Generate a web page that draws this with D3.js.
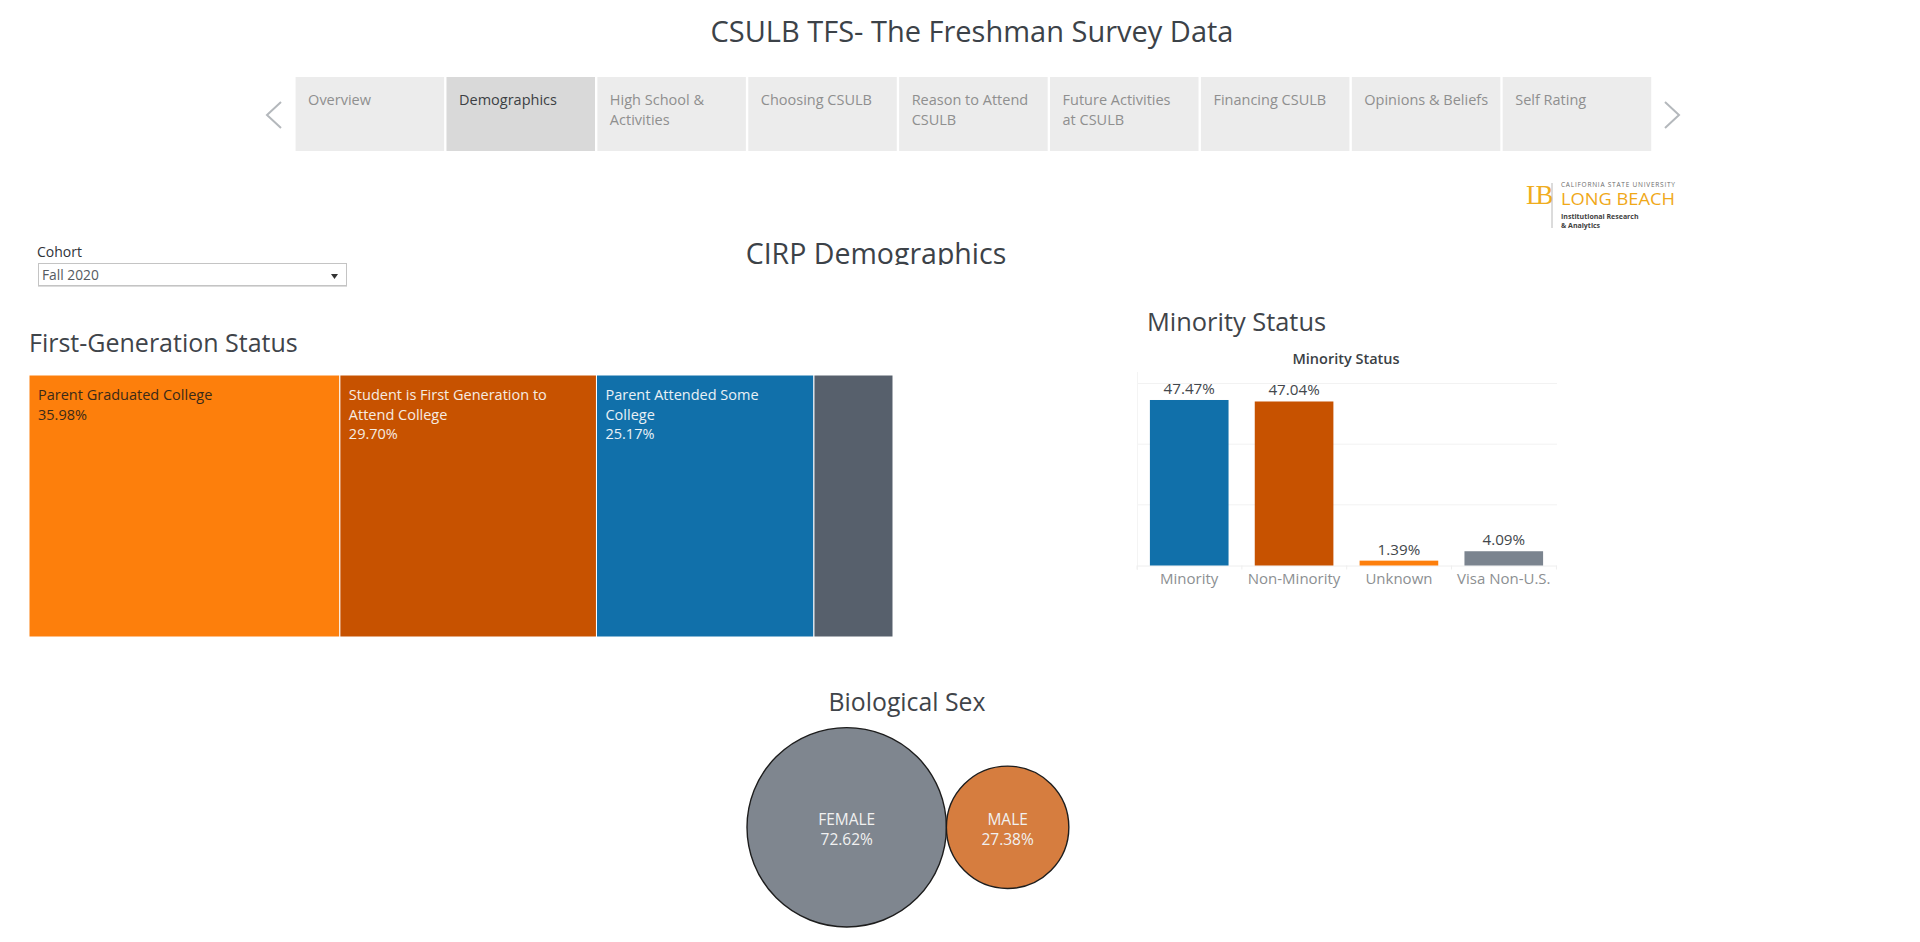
<!DOCTYPE html>
<html><head><meta charset="utf-8">
<style>
html,body{margin:0;padding:0;background:#fff;overflow:hidden}
svg{display:block}
text{font-family:"Open Sans",sans-serif}
</style>
<script src="https://cdn.jsdelivr.net/npm/d3@7/dist/d3.min.js"></script>
</head><body>
<script>
const pageTitle = "CSULB TFS- The Freshman Survey Data";
const sectionTitle = "CIRP Demographics";
const tabLabels = [["Overview"],["Demographics"],["High School &","Activities"],["Choosing CSULB"],["Reason to Attend","CSULB"],["Future Activities","at CSULB"],["Financing CSULB"],["Opinions & Beliefs"],["Self Rating"]];
const activeTab = "Demographics";

const genLabels = [["Parent Graduated College"],["Student is First Generation to","Attend College"],["Parent Attended Some","College"],[]];
const genValues = [35.98,29.70,25.17,9.15];
const genShown = [true,true,true,false];
const genColors = ["#fd7f0c","#c75200","#1170aa","#57606c"];
const genText = ["#3a2a18","#f6ece2","#e9f1f6","#ffffff"];

const minCats = ["Minority","Non-Minority","Unknown","Visa Non-U.S."];
const minValues = [47.47,47.04,1.39,4.09];
const minColors = ["#1170aa","#c75200","#fd7f0c","#7b848f"];
const minGrid = [17.4,34.8,52.2];

const sexCats = ["FEMALE","MALE"];
const sexValues = [72.62,27.38];
const sexColors = ["#7f868f","#d67d3f"];

const fmt = v => v.toFixed(2) + "%";
const svg = d3.select("body").append("svg").attr("width",1920).attr("height",942);

function txt(x,y,s,size,fill,anchor,weight){
  return svg.append("text").attr("x",x).attr("y",y).attr("font-size",size).attr("fill",fill)
    .attr("text-anchor",anchor||"start").attr("font-weight",weight||400).text(s);
}

/* header */
txt(972,42,pageTitle,29,"#3c4248","middle");

/* tabs */
const tabX = d3.scaleBand().domain(tabLabels.map(d=>d[0])).range([295.6,1651.2]).paddingInner(0.0158).paddingOuter(0);
const tabs = svg.append("g").selectAll("g").data(tabLabels).join("g").attr("transform",d=>`translate(${tabX(d[0])},77)`);
tabs.append("rect").attr("width",tabX.bandwidth()).attr("height",74)
  .attr("fill",d=>d[0]===activeTab?"#d9d9d9":"#ececec");
tabs.each(function(d){
  d3.select(this).selectAll("text").data(d).join("text")
    .attr("x",12.5).attr("y",(l,i)=>28+i*20).attr("font-size",14.5)
    .attr("fill",d[0]===activeTab?"#3c3f44":"#8f8f8f").text(l=>l);
});
const chev = d3.line();
svg.append("path").attr("d",chev([[281,102],[267,115],[281,128]])).attr("fill","none").attr("stroke","#b4b8bc").attr("stroke-width",2);
svg.append("path").attr("d",chev([[1665,102],[1679,115],[1665,128]])).attr("fill","none").attr("stroke","#b4b8bc").attr("stroke-width",2);

/* logo */
svg.append("text").attr("x",1526).attr("y",204).attr("font-size",27).attr("fill","#f0ad1e")
  .attr("style","font-family:'Liberation Serif',serif;letter-spacing:-7px").text("LB");
svg.append("line").attr("x1",1552).attr("x2",1552).attr("y1",183).attr("y2",228).attr("stroke","#b8b8b8");
txt(1561,187,"CALIFORNIA STATE UNIVERSITY",6.5,"#6c6c6c").attr("textLength",114).attr("lengthAdjust","spacing");
txt(1561,205,"LONG BEACH",16,"#f0a818").attr("textLength",114).attr("lengthAdjust","spacingAndGlyphs");
txt(1561,219,"Institutional Research",7,"#3f3f3f","start",700);
txt(1561,228,"& Analytics",7,"#3f3f3f","start",700);

/* cohort filter */
txt(37,257,"Cohort",14,"#2f3338","start",500);
svg.append("rect").attr("x",38.5).attr("y",263.5).attr("width",308).attr("height",22).attr("fill","#fff").attr("stroke","#c4c4c4");
svg.append("line").attr("x1",38).attr("x2",347).attr("y1",286.5).attr("y2",286.5).attr("stroke","#dcdcdc");
txt(42,280,"Fall 2020",13.8,"#555b60");
svg.append("path").attr("d",d3.line()([[331,274],[338,274],[334.5,279]])).attr("fill","#333");

/* section title, clipped as in the dashboard */
svg.append("clipPath").attr("id","secClip").append("rect").attr("x",600).attr("y",225).attr("width",600).attr("height",40);
svg.append("g").attr("clip-path","url(#secClip)").append("text").attr("x",876).attr("y",264).attr("text-anchor","middle")
  .attr("font-size",28.5).attr("font-weight",500).attr("fill","#3c4248").text(sectionTitle);

/* first-generation treemap */
txt(29,352,"First-Generation Status",25,"#3f444a");
const root = d3.hierarchy({children:genValues.map((v,i)=>({v,i}))}).sum(d=>d.v||0);
d3.treemap().tile(d3.treemapDice).size([864,262])(root);
const cells = svg.append("g").attr("transform","translate(29,375)").selectAll("g").data(root.leaves()).join("g")
  .attr("transform",d=>`translate(${d.x0},${d.y0})`);
cells.append("rect").attr("width",d=>d.x1-d.x0).attr("height",d=>d.y1-d.y0)
  .attr("fill",d=>genColors[d.data.i]).attr("stroke","#fff").attr("stroke-width",1);
cells.each(function(d){
  const i=d.data.i;
  if(!genShown[i]) return;
  const lines=genLabels[i].concat([fmt(genValues[i])]);
  d3.select(this).selectAll("text").data(lines).join("text")
    .attr("x",9).attr("y",(l,k)=>25+k*19.7).attr("font-size",14.5).attr("fill",genText[i]).text(l=>l);
});

/* minority bars */
txt(1147,331,"Minority Status",25.4,"#3f444a");
txt(1346,364,"Minority Status",14.5,"#3a3f45","middle",600);
const mx = d3.scaleBand().domain(minCats).range([1136.8,1556.2]).paddingInner(0.25).paddingOuter(0.125);
const my = d3.scaleLinear().domain([0,52.2]).range([565.5,383.5]);
const gridG = svg.append("g");
gridG.selectAll("line.g").data(minGrid).join("line").attr("class","g")
  .attr("x1",1137).attr("x2",1557).attr("y1",d=>my(d)).attr("y2",d=>my(d)).attr("stroke","#f2f2f2");
gridG.append("line").attr("x1",1137.5).attr("x2",1137.5).attr("y1",372).attr("y2",570).attr("stroke","#f4f4f4");
const xAxis = d3.axisBottom(mx).tickSize(0).tickPadding(8);
const axG = svg.append("g").attr("transform","translate(0,565.5)").call(xAxis);
axG.select(".domain").attr("stroke","#eeeeee");
axG.selectAll("text").attr("font-size",15).attr("fill","#8c8f92").attr("style","font-family:'Open Sans',sans-serif");
axG.selectAll("line.sep").data(d3.range(5)).join("line").attr("class","sep")
  .attr("x1",i=>1137+i*mx.step()).attr("x2",i=>1137+i*mx.step()).attr("y1",0).attr("y2",4).attr("stroke","#eeeeee");
svg.append("g").selectAll("rect").data(minCats).join("rect")
  .attr("x",d=>mx(d)).attr("width",mx.bandwidth())
  .attr("y",(d,i)=>my(minValues[i])).attr("height",(d,i)=>my(0)-my(minValues[i]))
  .attr("fill",(d,i)=>minColors[i]);
svg.append("g").selectAll("text").data(minCats).join("text")
  .attr("x",d=>mx(d)+mx.bandwidth()/2).attr("y",(d,i)=>my(minValues[i])-6)
  .attr("text-anchor","middle").attr("font-size",15.2).attr("fill","#43474c").text((d,i)=>fmt(minValues[i]));

/* biological sex circles */
txt(907,711,"Biological Sex",24.8,"#3f444a","middle");
const rScale = d3.scaleSqrt().domain([0,72.62]).range([0,99.7]);
const packed = []; let cursor = 747;
sexCats.forEach((c,i)=>{const r=rScale(sexValues[i]);packed.push({c,i,r,x:cursor+r});cursor+=2*r;});
const bub = svg.append("g").selectAll("g").data(packed).join("g").attr("transform",d=>`translate(${d.x},827.3)`);
bub.append("circle").attr("r",d=>d.r).attr("fill",d=>sexColors[d.i]).attr("stroke","#1d1d1d").attr("stroke-width",1.4);
bub.append("text").attr("text-anchor","middle").attr("y",-2).attr("font-size",15.5).attr("fill","#f1f1f1").text(d=>d.c);
bub.append("text").attr("text-anchor","middle").attr("y",18).attr("font-size",15.5).attr("fill","#f1f1f1").text(d=>fmt(sexValues[d.i]));
</script>
</body></html>
